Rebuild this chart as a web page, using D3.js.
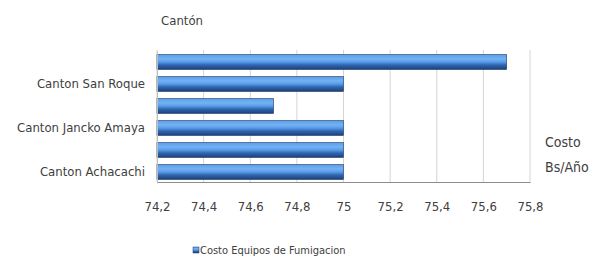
<!DOCTYPE html>
<html><head><meta charset="utf-8">
<script src="https://cdn.jsdelivr.net/npm/d3@7"></script>
<style>body{margin:0;background:#fff}svg{display:block}text{font-family:"Liberation Sans Narrow","DejaVu Sans Condensed",sans-serif;fill:#404040}</style>
</head><body><svg id="c" width="593" height="262"></svg>
<script>
// data, bottom to top
const categories = ["Canton Achacachi", "Canton 2", "Canton Jancko Amaya", "Canton 4", "Canton San Roque", "Canton 6"];
const shownLabels = ["Canton Achacachi", "", "Canton Jancko Amaya", "", "Canton San Roque", ""];
const values = [75, 75, 75, 74.7, 75, 75.7];
const xTicks = [74.2, 74.4, 74.6, 74.8, 75, 75.2, 75.4, 75.6, 75.8];
const seriesName = "Costo Equipos de Fumigacion";

const svg = d3.select("#c");
const x = d3.scaleLinear().domain([74.2, 75.8]).range([157, 530]);
const y = d3.scaleBand().domain(d3.range(categories.length).reverse()).range([51, 183]).paddingInner(0.32).paddingOuter(0.16);

const defs = svg.append("defs");
const g = defs.append("linearGradient").attr("id", "bg").attr("x1", 0).attr("y1", 0).attr("x2", 0).attr("y2", 1);
[[0, "#5d9de6"], [0.3, "#72b2f4"], [0.5, "#5a9be6"], [0.7, "#2f66b2"], [0.88, "#23508f"], [1, "#1b3c6e"]].forEach(([o, c]) =>
  g.append("stop").attr("offset", o).attr("stop-color", c));

// gridlines
svg.append("g").selectAll("line").data(xTicks).join("line")
  .attr("x1", d => x(d)).attr("x2", d => x(d)).attr("y1", 50).attr("y2", 182)
  .attr("stroke", "#d4d4d4").attr("stroke-width", 1);

// bars
svg.append("g").selectAll("rect").data(values).join("rect")
  .attr("x", x(74.2)).attr("y", (d, i) => y(i))
  .attr("width", d => x(d) - x(74.2)).attr("height", y.bandwidth())
  .attr("fill", "url(#bg)").attr("stroke", "#1b3c6e").attr("stroke-width", 0.6);

// x axis
const xa = svg.append("g").attr("transform", "translate(0,182)")
  .call(d3.axisBottom(x).tickValues(xTicks).tickSize(0).tickPadding(20)
    .tickFormat(d => d3.format(".1~f")(d).replace(".", ",")));
xa.select(".domain").attr("stroke", "#8c8c8c");
xa.selectAll("text").attr("font-size", 13).style("font-family", null);

// y axis
const ya = svg.append("g").attr("transform", "translate(157,0)")
  .call(d3.axisLeft(y).tickSize(0).tickPadding(12).tickFormat(i => shownLabels[i]));
ya.select(".domain").attr("stroke", "#bfbfbf");
ya.selectAll("text").attr("font-size", 13).style("font-family", null);
ya.attr("font-family", null); xa.attr("font-family", null);

// titles
svg.append("text").attr("x", 182).attr("y", 25).attr("text-anchor", "middle").attr("font-size", 13).text("Cantón");
svg.append("text").attr("x", 545).attr("y", 147).attr("font-size", 14).text("Costo");
svg.append("text").attr("x", 545).attr("y", 172).attr("font-size", 14).text("Bs/Año");

// legend
svg.append("rect").attr("x", 193).attr("y", 247).attr("width", 6).attr("height", 6).attr("fill", "url(#bg)").attr("stroke", "#1b3c6e").attr("stroke-width", 0.5);
svg.append("text").attr("x", 200).attr("y", 254).attr("font-size", 11).text(seriesName);
</script></body></html>
